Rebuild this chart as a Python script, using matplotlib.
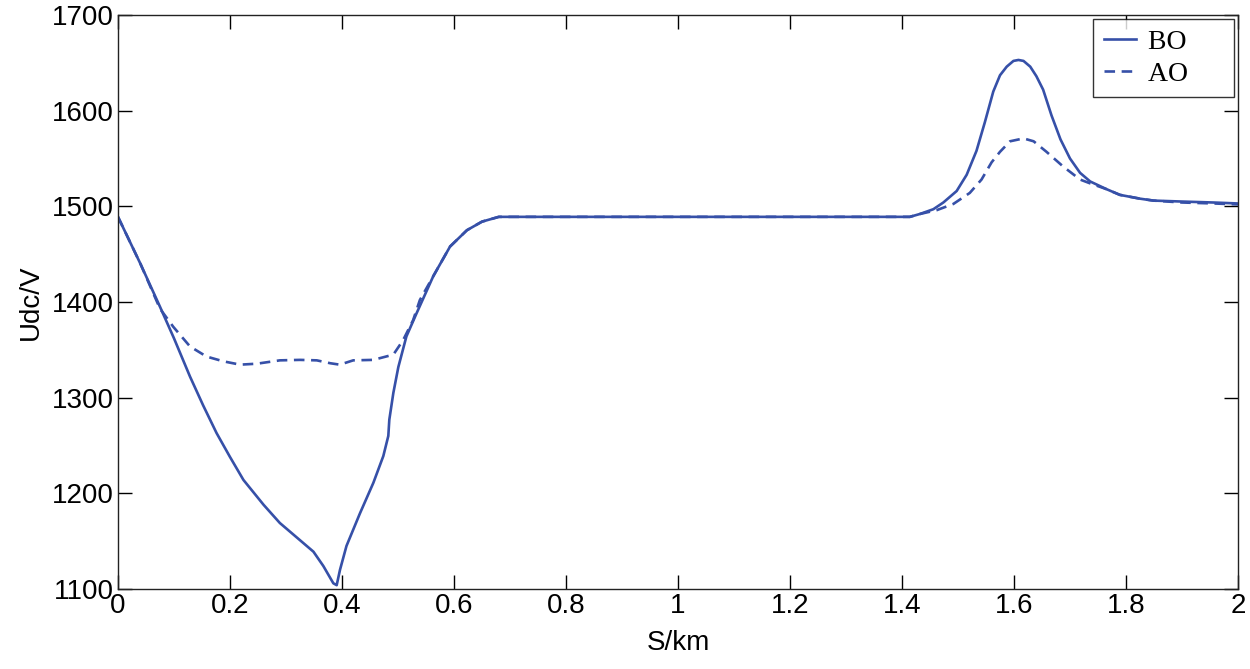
import matplotlib
matplotlib.use("Agg")
import matplotlib.pyplot as plt

# Distance (km) and DC voltage (V) — before optimisation (BO)
s_bo = [0, 0.04, 0.075, 0.1, 0.1286, 0.152, 0.176, 0.2, 0.224, 0.26, 0.289, 0.313,
        0.349, 0.3667, 0.3845, 0.3905, 0.3964, 0.408, 0.432, 0.456, 0.4738,
        0.4827, 0.4845, 0.4917, 0.5006, 0.515, 0.533, 0.563, 0.593, 0.623,
        0.65, 0.68, 1.414, 1.432, 1.456, 1.4738, 1.4976, 1.5155, 1.533, 1.548,
        1.563, 1.575, 1.587, 1.599, 1.608, 1.617, 1.629, 1.640, 1.652, 1.667,
        1.683, 1.700, 1.718, 1.736, 1.765, 1.789, 1.825, 1.849, 1.9, 1.956, 2.0]
v_bo = [1489, 1440, 1395, 1362, 1322, 1292, 1263, 1238, 1214, 1188, 1169, 1157,
        1139, 1124, 1106, 1104, 1120, 1145, 1179, 1211, 1239,
        1260, 1277, 1305, 1332, 1364, 1388, 1427, 1458, 1475,
        1484, 1489, 1489, 1492, 1497, 1504, 1516, 1533, 1558, 1588,
        1620, 1637, 1646, 1652, 1653, 1652, 1646, 1636, 1622, 1595,
        1570, 1550, 1535, 1526, 1518, 1512, 1508, 1506, 1505, 1504, 1503]

# After optimisation (AO)
s_ao = [0, 0.04, 0.075, 0.0988, 0.1286, 0.158, 0.188, 0.218, 0.248, 0.289,
        0.325, 0.355, 0.379, 0.396, 0.420, 0.456, 0.4917, 0.509, 0.527, 0.539,
        0.563, 0.593, 0.623, 0.65, 0.68, 1.414, 1.432, 1.462, 1.4917, 1.521,
        1.542, 1.560, 1.575, 1.593, 1.617, 1.635, 1.658, 1.688, 1.718, 1.736,
        1.765, 1.789, 1.825, 1.849, 1.9, 1.956, 2.0]
v_ao = [1489, 1440, 1393, 1374, 1353.5, 1343, 1338, 1334.5, 1335.5, 1339,
        1339.5, 1339, 1336, 1334.5, 1339, 1339.5, 1345, 1360, 1381, 1402,
        1427, 1458, 1475, 1484, 1489, 1489, 1492, 1496, 1502.5, 1514,
        1528, 1546, 1557, 1568, 1571, 1568, 1557, 1541.5, 1528, 1524,
        1518, 1512, 1508, 1506, 1504, 1503, 1502]

x_ticks = [0, 0.2, 0.4, 0.6, 0.8, 1, 1.2, 1.4, 1.6, 1.8, 2]
x_tick_labels = ["0", "0.2", "0.4", "0.6", "0.8", "1", "1.2", "1.4", "1.6", "1.8", "2"]
y_ticks = [1100, 1200, 1300, 1400, 1500, 1600, 1700]

color = "#3650a8"
sans = ["Liberation Sans", "DejaVu Sans"]
serif = ["Liberation Serif", "DejaVu Serif"]

fig = plt.figure(figsize=(12.5, 6.69), dpi=100)
ax = fig.add_axes([118 / 1250, 1 - 589 / 669, (1238 - 118) / 1250, (589 - 15) / 669])

ax.plot(s_bo, v_bo, color=color, lw=1.9, label="BO     ")
ax.plot(s_ao, v_ao, color=color, lw=1.9, ls=(0, (4, 2.5)), label="AO     ")

ax.set_xlim(0, 2)
ax.set_ylim(1100, 1700)
ax.set_xticks(x_ticks)
ax.set_xticklabels(x_tick_labels)
ax.set_yticks(y_ticks)
ax.tick_params(direction="in", length=10, width=1, top=True, right=True,
               labelsize=20, pad=3)
for lab in ax.get_xticklabels() + ax.get_yticklabels():
    lab.set_family(sans)
for sp in ax.spines.values():
    sp.set_linewidth(1.0)
    sp.set_color("#222222")

ax.set_xlabel("S/km", fontsize=20, family=sans, labelpad=8)
ax.set_ylabel("Udc/V", fontsize=20, family=sans, labelpad=6)

leg = ax.legend(loc="upper right", prop={"family": serif, "size": 20},
                frameon=True, fancybox=False, edgecolor="black",
                borderaxespad=0.15, handlelength=1.15, handletextpad=0.45,
                borderpad=0.38, labelspacing=0.22)
leg.get_frame().set_linewidth(1.0)

fig.savefig("out.png", dpi=100)
